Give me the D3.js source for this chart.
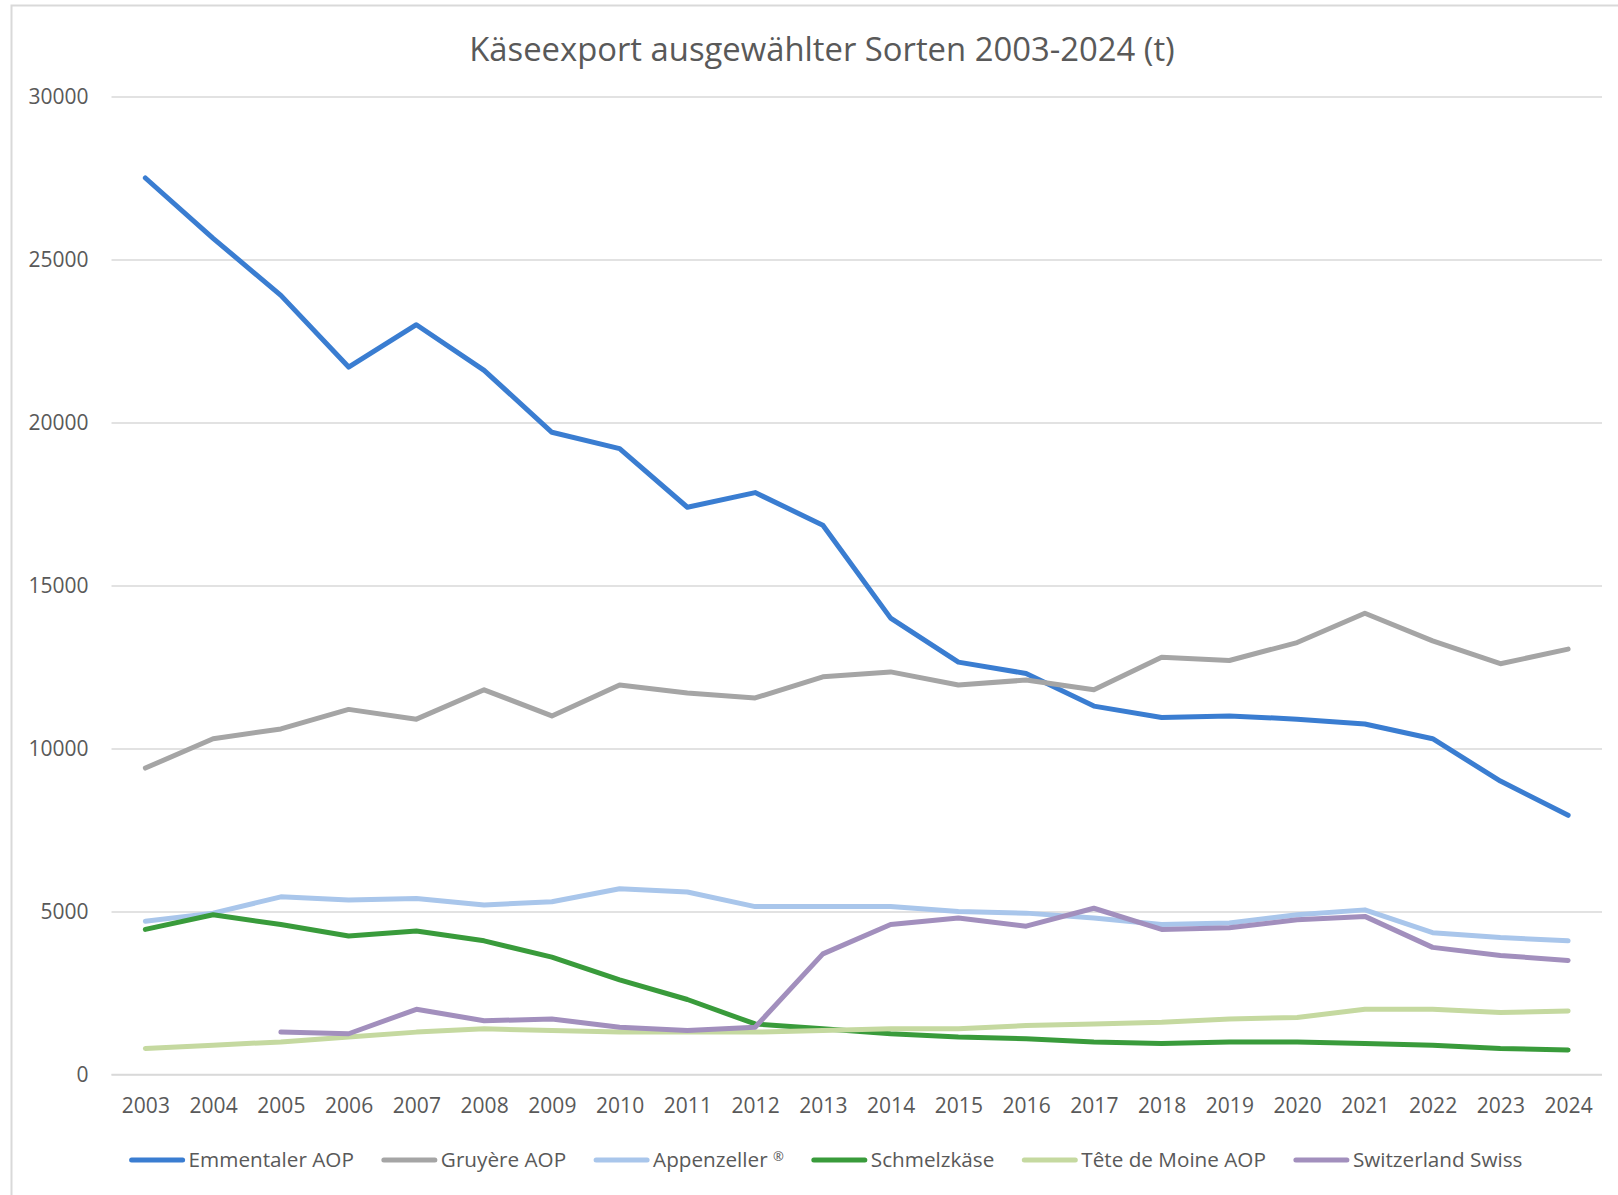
<!DOCTYPE html>
<html>
<head>
<meta charset="utf-8">
<script src="https://cdn.jsdelivr.net/npm/d3@7"></script>
<style>
  html, body { margin: 0; padding: 0; background: #fff; }
  svg { display: block; font-family: "Open Sans", sans-serif; }
</style>
</head>
<body>
<svg id="chart" width="1618" height="1195"></svg>
<script>
const years = [2003,2004,2005,2006,2007,2008,2009,2010,2011,2012,2013,2014,2015,2016,2017,2018,2019,2020,2021,2022,2023,2024];
const yTicks = [0,5000,10000,15000,20000,25000,30000];
const seriesNames = ["Emmentaler AOP","Gruyère AOP","Appenzeller ®","Schmelzkäse","Tête de Moine AOP","Switzerland Swiss"];
const seriesColors = ["#3a7dd1","#a5a5a5","#a9c6eb","#399b3b","#c5d9a0","#a28fbd"];

const emmentaler = [27500,25650,23900,21700,23000,21600,19700,19200,17400,17850,16850,14000,12650,12300,11300,10950,11000,10900,10750,10300,9000,7950];
const gruyere = [9400,10300,10600,11200,10900,11800,11000,11950,11700,11550,12200,12350,11950,12100,11800,12800,12700,13250,14150,13300,12600,13050];
const appenzeller = [4700,4950,5450,5350,5400,5200,5300,5700,5600,5150,5150,5150,5000,4950,4800,4600,4650,4900,5050,4350,4200,4100];
const schmelzkaese = [4450,4900,4600,4250,4400,4100,3600,2900,2300,1550,1400,1250,1150,1100,1000,950,1000,1000,950,900,800,750];
const teteDeMoine = [800,900,1000,1150,1300,1400,1350,1300,1300,1300,1350,1400,1400,1500,1550,1600,1700,1750,2000,2000,1900,1950];
const switzerlandSwiss = [null,null,1300,1250,2000,1650,1700,1450,1350,1450,3700,4600,4800,4550,5100,4450,4500,4750,4850,3900,3650,3500];

const seriesValues = [emmentaler, gruyere, appenzeller, schmelzkaese, teteDeMoine, switzerlandSwiss];

const svg = d3.select("#chart");
const textColor = "#595959";
const gridColor = "#d9d9d9";

// chart border
svg.append("rect")
  .attr("x", 11.5).attr("y", 5.5)
  .attr("width", 1700).attr("height", 1300)
  .attr("fill", "none").attr("stroke", gridColor).attr("stroke-width", 2);

const x = d3.scalePoint().domain(years).range([111.5, 1602]).padding(0.5);
const y = d3.scaleLinear().domain([0, 30000]).range([1074.5, 96.5]);

// gridlines
const yAxis = d3.axisLeft(y).tickValues(yTicks).tickSize(-(1602 - 111.5)).tickPadding(23).tickFormat(d3.format("d"));
const gy = svg.append("g").attr("transform", "translate(111.5,0)").call(yAxis);
gy.select(".domain").remove();
gy.selectAll(".tick line").attr("stroke", gridColor).attr("stroke-width", 1.6);
gy.selectAll(".tick text").attr("fill", textColor).style("font-size", "21px").style("font-family", "'Open Sans', sans-serif");

// x axis
const xAxis = d3.axisBottom(x).tickSize(0).tickPadding(24).tickFormat(d => String(d));
const gx = svg.append("g").attr("transform", "translate(0," + y(0) + ")").call(xAxis);
gx.select(".domain").attr("stroke", gridColor).attr("stroke-width", 1.6)
  .attr("d", "M111.5,0H1602");
gx.selectAll(".tick text").attr("fill", textColor).style("font-size", "21px").style("font-family", "'Open Sans', sans-serif");

// lines
const line = d3.line()
  .defined(d => d.v !== null)
  .x(d => x(d.year))
  .y(d => y(d.v));

seriesValues.forEach((vals, i) => {
  const data = vals.map((v, j) => ({ year: years[j], v: v }));
  svg.append("path")
    .datum(data)
    .attr("fill", "none")
    .attr("stroke", seriesColors[i])
    .attr("stroke-width", 5)
    .attr("stroke-linejoin", "round")
    .attr("stroke-linecap", "round")
    .attr("d", line);
});

// title
svg.append("text")
  .attr("x", 822).attr("y", 61)
  .attr("text-anchor", "middle")
  .attr("fill", textColor)
  .style("font-size", "32.8px")
  .text("Käseexport ausgewählter Sorten 2003-2024 (t)");

// legend
const legend = svg.append("g");
const lineLen = 55, textGap = 4, itemGap = 28, legendY = 1160;
const items = [];
seriesNames.forEach((name, i) => {
  const g = legend.append("g");
  g.append("line")
    .attr("x1", 2).attr("x2", lineLen - 2)
    .attr("y1", 0).attr("y2", 0)
    .attr("stroke", seriesColors[i]).attr("stroke-width", 5)
    .attr("stroke-linecap", "round");
  const t = g.append("text")
    .attr("x", lineLen + textGap).attr("y", 0)
    .attr("dy", "0.35em")
    .attr("fill", textColor)
    .style("font-size", "20.7px");
  if (name.endsWith("®")) {
    t.append("tspan").text(name.slice(0, -1));
    t.append("tspan").attr("dy", "-0.45em").style("font-size", "13px").text("®");
  } else {
    t.text(name);
  }
  const w = t.node().getComputedTextLength();
  items.push({ g, w });
});
let total = 0;
items.forEach((it, i) => { total += lineLen + textGap + it.w + (i < items.length - 1 ? itemGap : 0); });
let startX = 826 - total / 2;
items.forEach(it => {
  it.g.attr("transform", "translate(" + startX + "," + legendY + ")");
  startX += lineLen + textGap + it.w + itemGap;
});
</script>
</body>
</html>
